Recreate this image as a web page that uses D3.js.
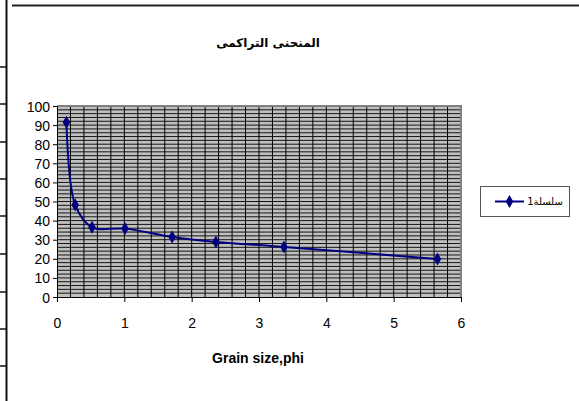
<!DOCTYPE html>
<html>
<head>
<meta charset="utf-8">
<script src="https://cdn.jsdelivr.net/npm/d3@7"></script>
<style>
  html, body { margin: 0; padding: 0; background: #fff; }
  svg { display: block; font-family: "Liberation Sans", Arial, sans-serif; }
</style>
</head>
<body>
<svg id="chart" width="579" height="401"></svg>
<script>
// Cumulative curve: grain size (phi) against cumulative percentage
const grainSize = [0.14, 0.27, 0.52, 1.01, 1.71, 2.36, 3.37, 5.65];
const cumulative = [91.5, 48.2, 36.5, 35.8, 31.4, 28.8, 26.2, 19.9];
const xTicks = [0, 1, 2, 3, 4, 5, 6];
const yTicks = [0, 10, 20, 30, 40, 50, 60, 70, 80, 90, 100];
const chartTitle = "المنحنى التراكمى";
const xTitle = "Grain size,phi";
const seriesName = "سلسلة1";

const svg = d3.select("#chart");
const plot = { left: 57, right: 461, top: 106, bottom: 297 };

const x = d3.scaleLinear().domain([0, 6]).range([plot.left, plot.right]);
const y = d3.scaleLinear().domain([0, 100]).range([plot.bottom, plot.top]);

// Page frame: left rule with row ticks, top rule
const frame = svg.append("g");
frame.append("line").attr("x1", 6.5).attr("x2", 6.5).attr("y1", 0).attr("y2", 401)
  .attr("stroke", "#111").attr("stroke-width", 2);
[67, 104, 142, 179, 216, 254, 292, 329, 366].forEach(v => {
  frame.append("line").attr("x1", 0).attr("x2", 6).attr("y1", v).attr("y2", v)
    .attr("stroke", "#111").attr("stroke-width", 1.5);
});
frame.append("line").attr("x1", 12).attr("x2", 579).attr("y1", 5.5).attr("y2", 5.5)
  .attr("stroke", "#222").attr("stroke-width", 2);

// Plot area background
svg.append("rect")
  .attr("x", plot.left).attr("y", plot.top)
  .attr("width", plot.right - plot.left).attr("height", plot.bottom - plot.top)
  .attr("fill", "#c0c0c0");

// Dense grid: horizontal every 2 units, vertical every 0.2 units
const grid = svg.append("g");
d3.range(2, 100, 2).forEach(v => {
  grid.append("line").attr("x1", plot.left).attr("x2", plot.right)
    .attr("y1", y(v)).attr("y2", y(v)).attr("stroke", "#000").attr("stroke-width", 0.9);
});
d3.range(1, 30).forEach(i => {
  const v = i * 0.2;
  grid.append("line").attr("y1", plot.top).attr("y2", plot.bottom)
    .attr("x1", x(v)).attr("x2", x(v)).attr("stroke", "#000").attr("stroke-width", 1);
});

// Plot area border (top and right)
svg.append("path")
  .attr("d", `M${plot.left},${plot.top}H${plot.right}V${plot.bottom}`)
  .attr("fill", "none").attr("stroke", "#808080").attr("stroke-width", 2);

// Axes
const xAxis = svg.append("g").attr("transform", `translate(0,${plot.bottom})`)
  .call(d3.axisBottom(x).tickValues(xTicks).tickSize(5).tickPadding(16).tickFormat(d3.format("d")));
const yAxis = svg.append("g").attr("transform", `translate(${plot.left},0)`)
  .call(d3.axisLeft(y).tickValues(yTicks).tickSize(4).tickPadding(3).tickFormat(d3.format("d")));
[xAxis, yAxis].forEach(a => {
  a.select(".domain").attr("stroke", "#000").attr("stroke-width", 1);
  a.selectAll(".tick line").attr("stroke", "#000");
  a.selectAll("text").attr("font-size", 14).attr("fill", "#000")
    .attr("font-family", "Liberation Sans, Arial, sans-serif");
});
yAxis.selectAll("text").attr("dy", "0.36em");

// Smoothed series line with diamond markers
const line = d3.line()
  .x((d, i) => x(grainSize[i]))
  .y(d => y(d))
  .curve(d3.curveCatmullRom.alpha(0.5));
svg.append("path").datum(cumulative)
  .attr("d", line).attr("fill", "none")
  .attr("stroke", "#000080").attr("stroke-width", 2);

const diamond = d3.symbol().type(d3.symbolDiamond).size(50);
svg.append("g").selectAll("path").data(cumulative).join("path")
  .attr("d", diamond)
  .attr("transform", (d, i) => `translate(${x(grainSize[i])},${y(d)})`)
  .attr("fill", "#000080");

// Titles
svg.append("text").attr("x", 268).attr("y", 47).attr("text-anchor", "middle")
  .attr("font-size", 12).attr("font-weight", "bold").attr("direction", "rtl")
  .attr("font-family", "DejaVu Sans, Noto Sans, sans-serif")
  .text(chartTitle);
svg.append("text").attr("x", 258).attr("y", 363).attr("text-anchor", "middle")
  .attr("font-size", 14).attr("font-weight", "bold").text(xTitle);

// Legend
const legend = svg.append("g");
legend.append("rect").attr("x", 480.5).attr("y", 186.5).attr("width", 89).attr("height", 30)
  .attr("fill", "#fff").attr("stroke", "#555").attr("stroke-width", 1);
legend.append("line").attr("x1", 495).attr("x2", 524).attr("y1", 201.5).attr("y2", 201.5)
  .attr("stroke", "#000080").attr("stroke-width", 2);
legend.append("path").attr("d", diamond).attr("transform", "translate(509.5,201.5)")
  .attr("fill", "#000080");
legend.append("text").attr("x", 545).attr("y", 205).attr("text-anchor", "middle")
  .attr("font-size", 10).attr("direction", "rtl")
  .attr("font-family", "DejaVu Sans, Noto Sans, sans-serif")
  .text(seriesName);
</script>
</body>
</html>
